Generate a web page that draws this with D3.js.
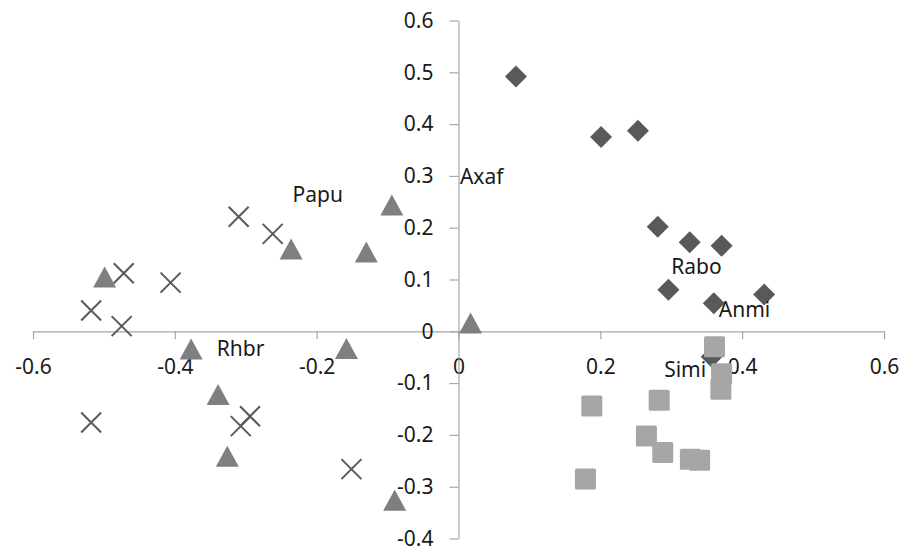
<!DOCTYPE html>
<html>
<head>
<meta charset="utf-8">
<script src="https://cdn.jsdelivr.net/npm/d3@7"></script>
<style>
  body { margin: 0; background: #fff; }
  text { font-family: "Noto Sans", sans-serif; }
</style>
</head>
<body>
<script>
// DATA (x, y pairs)
const diamonds = [
    [0.081, 0.492], [0.201, 0.375], [0.253, 0.387], [0.281, 0.202], [0.326, 0.172],
    [0.371, 0.165], [0.296, 0.080], [0.360, 0.054], [0.431, 0.071], [0.357, -0.049]
];
const squares = [
    [0.361, -0.030], [0.371, -0.082], [0.370, -0.112], [0.188, -0.144], [0.283, -0.133],
    [0.265, -0.202], [0.288, -0.234], [0.327, -0.247], [0.340, -0.249], [0.179, -0.285]
];
const triangles = [
    [-0.499, 0.104], [-0.236, 0.158], [-0.094, 0.243], [-0.130, 0.152], [0.017, 0.015],
    [-0.377, -0.035], [-0.158, -0.034], [-0.339, -0.123], [-0.326, -0.242], [-0.090, -0.327]
];
const crosses = [
    [-0.472, 0.112], [-0.406, 0.094], [-0.518, 0.040], [-0.475, 0.010], [-0.310, 0.221],
    [-0.262, 0.188], [-0.294, -0.164], [-0.307, -0.183], [-0.151, -0.266], [-0.518, -0.176]
];
const pointLabels = [
    { name: "Axaf", x: 0.002, y: 0.284 },
    { name: "Papu", x: -0.234, y: 0.250 },
    { name: "Rabo", x: 0.300, y: 0.110 },
    { name: "Anmi", x: 0.367, y: 0.028 },
    { name: "Simi", x: 0.290, y: -0.088 },
    { name: "Rhbr", x: -0.341, y: -0.047 }
];
const xTicks = [-0.6, -0.4, -0.2, 0, 0.2, 0.4, 0.6];
const yTicks = [-0.4, -0.3, -0.2, -0.1, 0, 0.1, 0.2, 0.3, 0.4, 0.5, 0.6];

// SVG
const width = 904, height = 552;
const svg = d3.select("body").append("svg")
    .attr("width", width)
    .attr("height", height);

// SCALES
const xScale = d3.scaleLinear().domain([-0.6, 0.6]).range([33, 884]);
const yScale = d3.scaleLinear().domain([-0.4, 0.6]).range([538.5, 20.5]);

// AXES
const xAxis = d3.axisBottom(xScale)
    .tickValues(xTicks)
    .tickSizeInner(8)
    .tickSizeOuter(0)
    .tickPadding(20)
    .tickFormat(d => d === 0 ? "0" : d3.format(".1f")(d).replace("−", "-"));

const yAxis = d3.axisLeft(yScale)
    .tickValues(yTicks)
    .tickSizeInner(9)
    .tickSizeOuter(0)
    .tickPadding(16)
    .tickFormat(d => d === 0 ? "0" : d3.format(".1f")(d).replace("−", "-"));

const gx = svg.append("g")
    .attr("transform", `translate(0,${yScale(0)})`)
    .call(xAxis);

const gy = svg.append("g")
    .attr("transform", `translate(${xScale(0)},0)`)
    .call(yAxis);

[gx, gy].forEach(g => {
    g.selectAll("path, line").attr("stroke", "#a6a6a6").attr("stroke-width", 1.2);
    g.selectAll("text").attr("font-size", "21px").attr("fill", "#1a1a1a")
        .attr("font-family", "'Noto Sans', sans-serif");
});

// MARKERS
const plot = svg.append("g");

plot.selectAll(".diamond").data(diamonds).enter()
    .append("path")
    .attr("class", "diamond")
    .attr("transform", d => `translate(${xScale(d[0])},${yScale(d[1])})`)
    .attr("d", "M0,-11L11,0L0,11L-11,0Z")
    .attr("fill", "#595959");

plot.selectAll(".square").data(squares).enter()
    .append("rect")
    .attr("class", "square")
    .attr("x", d => xScale(d[0]) - 10.5)
    .attr("y", d => yScale(d[1]) - 10.5)
    .attr("width", 21)
    .attr("height", 21)
    .attr("rx", 1.5)
    .attr("fill", "#a6a6a6");

plot.selectAll(".triangle").data(triangles).enter()
    .append("path")
    .attr("class", "triangle")
    .attr("transform", d => `translate(${xScale(d[0])},${yScale(d[1])})`)
    .attr("d", "M0,-11L11.5,10L-11.5,10Z")
    .attr("fill", "#7f7f7f");

plot.selectAll(".cross").data(crosses).enter()
    .append("path")
    .attr("class", "cross")
    .attr("transform", d => `translate(${xScale(d[0])},${yScale(d[1])})`)
    .attr("d", "M-10,-10L10,10M-10,10L10,-10")
    .attr("fill", "none")
    .attr("stroke", "#595959")
    .attr("stroke-width", 2);

// DATA LABELS
svg.selectAll(".plabel").data(pointLabels).enter()
    .append("text")
    .attr("class", "plabel")
    .attr("x", d => xScale(d.x))
    .attr("y", d => yScale(d.y))
    .attr("font-size", "21px")
    .attr("fill", "#1a1a1a")
    .text(d => d.name);
</script>
</body>
</html>
